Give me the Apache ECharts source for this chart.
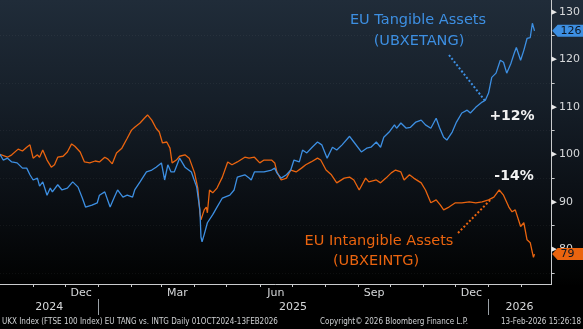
<!DOCTYPE html>
<html><head><meta charset="utf-8">
<script src="https://cdn.jsdelivr.net/npm/echarts@6/dist/echarts.min.js"></script>
<style>
html,body{margin:0;padding:0;background:#000;}
#c{width:583px;height:329px;background:linear-gradient(to bottom,#202c39 0%,#161f29 30%,#0a0e13 62%,#020303 84%,#000 87%,#000 100%);}
</style></head><body><div id="c"></div>
<script>
// ---- data ----
const startDate = '2024-10-01';
const tangDays = [0,3,7,11,16,21,25,28,31,35,37,40,44,47,49,54,58,63,68,73,77,80,86,91,93,98,103,107,110,115,119,124,126,131,137,142,146,151,154,157,160,163,168,173,179,184,187,188,189,191,194,199,203,208,215,219,222,229,233,235,238,247,254,257,259,263,268,272,275,280,283,287,292,297,301,306,311,315,320,327,331,338,343,347,352,356,359,364,369,371,375,380,384,389,394,398,403,408,411,415,418,423,427,432,437,440,445,451,454,457,460,464,468,471,474,478,481,483,487,490,493,496,498,500];
const tangValues = [100,98.8,99.2,98.4,98.2,97.1,97.1,95.7,94.6,95.0,93.3,94.2,91.4,92.9,92.1,93.6,92.5,92.9,94.2,93.1,90.8,88.9,89.3,89.8,91.4,92.1,88.9,91.0,92.5,91.0,91.4,91.0,92.5,94.2,96.3,96.7,97.3,98.2,94.6,97.8,96.3,96.3,99.2,97.3,96.3,93.1,88.3,82.6,81.6,83.1,85.6,87.3,88.9,90.8,91.4,92.5,95.2,95.7,95.0,94.6,96.3,96.3,96.7,97.1,96.1,95.0,95.7,96.7,98.8,98.4,100.9,100.3,101.5,102.6,102.0,99.2,101.5,100.9,102.0,103.8,102.6,100.5,101.3,101.5,102.6,101.5,103.6,104.7,106.2,105.5,106.6,105.5,105.7,106.8,107.2,106.2,105.5,107.6,105.7,103.6,103.0,104.7,106.8,108.7,109.3,108.7,109.9,111.0,111.4,112.9,116.2,117.1,119.8,119.4,117.1,119.2,121.3,122.5,119.8,121.9,124.4,124.6,127.6,126.0];
const intgDays = [0,7,11,17,21,25,28,31,35,37,40,44,48,51,54,59,63,67,70,75,79,84,89,93,98,101,105,109,114,119,123,126,131,135,138,142,146,149,152,156,159,161,165,168,173,177,182,185,187,188,189,191,193,194,196,199,203,208,213,217,222,229,233,238,243,247,254,257,259,263,268,272,277,282,286,291,297,300,305,310,315,322,327,331,336,342,345,352,356,361,366,370,375,378,383,387,394,398,403,408,412,415,420,426,432,439,445,451,457,462,467,471,476,479,482,487,490,493,496,498,499,500];
const intgValues = [100,99.4,99.9,101.1,100.7,101.5,102.0,99.2,99.9,99.4,100.9,98.8,97.3,97.8,99.4,99.6,100.5,102.2,101.7,100.5,98.4,98.2,98.6,98.4,99.4,99.0,98.0,100.3,101.3,103.4,105.1,105.7,106.6,107.6,108.3,107.2,105.5,104.7,102.4,102.6,101.3,98.2,98.8,99.6,99.9,99.2,96.1,92.9,87.7,86.2,86.6,88.3,88.9,87.7,92.5,91.9,92.9,95.2,98.4,97.8,98.4,99.4,99.2,99.4,98.2,98.8,98.8,98.2,96.3,94.6,95.0,96.7,96.3,97.1,97.8,98.4,99.2,98.8,96.7,95.7,94.0,95.0,95.2,94.6,92.5,95.0,94.2,94.6,94.0,95.0,96.1,96.7,96.3,94.6,95.7,95.0,94.0,92.5,89.8,90.4,89.3,88.3,88.9,89.8,89.8,90.0,89.8,90.0,90.4,91.0,92.5,91.4,88.9,87.9,88.3,84.8,85.6,82.0,81.4,79.3,78.3,79.0];
const tangName = ['EU Tangible Assets', '(UBXETANG)'];
const intgName = ['EU Intangible Assets', '(UBXEINTG)'];
const tangChange = '+12%';
const intgChange = '-14%';
const xMinDate = '2024-10-01', xMaxDate = '2026-03-01';
const yMin = 72.7, yMax = 132.5;
const yLabelValues = [80, 90, 100, 110, 120, 130];
const yMinorTickValues = [75, 85, 95, 105, 115, 125];
const monthTickDates = ['2024-11-01','2024-12-01','2025-01-01','2025-02-01','2025-03-01','2025-04-01','2025-05-01','2025-06-01','2025-07-01','2025-08-01','2025-09-01','2025-10-01','2025-11-01','2025-12-01','2026-01-01','2026-02-01'];
const monthLabelDates = ['2024-12-16','2025-03-16','2025-06-16','2025-09-16','2025-12-16'];
const monthLabelTexts = ['Dec','Mar','Jun','Sep','Dec'];
const yearLabelDates = ['2024-11-16','2025-07-02','2026-01-30'];
const yearLabelTexts = ['2024','2025','2026'];
const yearSepDates = ['2025-01-01','2026-01-01'];
const tangAnchor = ['2025-12-29', 111.2];
const intgAnchor = ['2026-01-04', 90.7];
const footerLeft = 'UKX Index (FTSE 100 Index) EU TANG vs. INTG Daily 01OCT2024-13FEB2026';
const footerMid = 'Copyright\u00A9 2026 Bloomberg Finance L.P.';
const footerRight = '13-Feb-2026 15:26:18';

// ---- helpers ----
function ts(s){const p=s.split('-').map(Number);return Date.UTC(p[0],p[1]-1,p[2]);}
const t0 = ts(startDate);
const DAY = 86400000;
const tangData = tangDays.map((d,i)=>[t0+d*DAY, tangValues[i]]);
const intgData = intgDays.map((d,i)=>[t0+d*DAY, intgValues[i]]);
const monthLabelMap = {}; monthLabelDates.forEach((d,i)=>monthLabelMap[ts(d)]=monthLabelTexts[i]);
const yearLabelMap = {}; yearLabelDates.forEach((d,i)=>yearLabelMap[ts(d)]=yearLabelTexts[i]);

const BLUE = '#3d8fe2', ORANGE = '#ea640f';
const FONT = 'DejaVu Sans';

const chart = echarts.init(document.getElementById('c'), null, {renderer:'canvas'});
chart.setOption({
  animation: false,
  backgroundColor: 'transparent',
  grid: {left: 0, right: 30, top: 0, bottom: 45},
  xAxis: [{
    type: 'value', min: ts(xMinDate), max: ts(xMaxDate),
    axisLine: {show: true, onZero: false, lineStyle: {color: '#c9cbcd', width: 1}},
    axisTick: {show: true, customValues: monthTickDates.map(ts), length: 3, lineStyle: {color: '#c9cbcd'}},
    axisLabel: {show: true, customValues: monthLabelDates.map(ts), formatter: v => monthLabelMap[v] || '',
      color: '#d6d8da', fontFamily: FONT, fontSize: 11, margin: 4, hideOverlap: false},
    splitLine: {show: false}
  },{
    type: 'value', min: ts(xMinDate), max: ts(xMaxDate), position: 'bottom', offset: 15,
    axisLine: {show: false, onZero: false},
    axisTick: {show: true, customValues: yearSepDates.map(ts), length: 16, lineStyle: {color: '#9aa0a6'}},
    axisLabel: {show: true, customValues: yearLabelDates.map(ts), formatter: v => yearLabelMap[v] || '',
      color: '#d6d8da', fontFamily: FONT, fontSize: 11, margin: 3, hideOverlap: false},
    splitLine: {show: false}
  }],
  yAxis: {
    type: 'value', position: 'right', min: yMin, max: yMax,
    axisLine: {show: true, lineStyle: {color: '#c9cbcd', width: 1}},
    axisTick: {show: true, customValues: yMinorTickValues, length: 3, lineStyle: {color: '#c9cbcd'}},
    axisLabel: {show: true, customValues: yLabelValues, margin: 0,
      formatter: v => '{t|\u25B6}{v|' + v + '}',
      rich: {t: {color: '#e8e8e8', fontSize: 7, fontFamily: FONT, padding: [0,2,0,0]},
             v: {color: '#d6d8da', fontSize: 11, fontFamily: FONT}}},
    splitLine: {show: true, lineStyle: {color: 'rgba(255,255,255,0.05)', type: [1,2]}}
  },
  series: [{
    type: 'line', data: intgData, showSymbol: false, symbol: 'none',
    lineStyle: {color: ORANGE, width: 1.3}, z: 2
  },{
    type: 'line', data: tangData, showSymbol: false, symbol: 'none',
    lineStyle: {color: BLUE, width: 1.3}, z: 3
  }]
});

function buildGraphics(){
  const xr = chart.convertToPixel({xAxisIndex: 0}, ts(xMaxDate));
  const W = 583;
  const g = [];
  function tag(val, color){
    const y = chart.convertToPixel({yAxisIndex: 0}, val);
    const h = 6;
    g.push({type: 'polygon', shape: {points: [[xr+0.5, y],[xr+6, y-h],[W, y-h],[W, y+h],[xr+6, y+h]]},
      style: {fill: color}, z: 100});
    g.push({type: 'text', x: xr+9, y: y, style: {text: String(val), fill: '#0c1622', font: '11px "DejaVu Sans"', textVerticalAlign: 'middle', textAlign: 'left'}, z: 101});
  }
  tag(Math.round(tangValues[tangValues.length-1]), BLUE);
  tag(Math.round(intgValues[intgValues.length-1]), ORANGE);

  const ta = chart.convertToPixel({gridIndex: 0}, [ts(tangAnchor[0]), tangAnchor[1]]);
  const ia = chart.convertToPixel({gridIndex: 0}, [ts(intgAnchor[0]), intgAnchor[1]]);
  g.push({type: 'line', shape: {x1: 449, y1: 55, x2: ta[0], y2: ta[1]}, style: {stroke: BLUE, lineWidth: 2, lineDash: [2,2]}, z: 50});
  g.push({type: 'line', shape: {x1: 458, y1: 233, x2: ia[0], y2: ia[1]}, style: {stroke: ORANGE, lineWidth: 2, lineDash: [2,2]}, z: 50});

  const annFont = '14.5px "DejaVu Sans"';
  g.push({type: 'text', x: 418, y: 20, style: {text: tangName[0], fill: BLUE, font: annFont, textAlign: 'center', textVerticalAlign: 'middle'}, z: 60});
  g.push({type: 'text', x: 419, y: 41, style: {text: tangName[1], fill: BLUE, font: annFont, textAlign: 'center', textVerticalAlign: 'middle'}, z: 60});
  g.push({type: 'text', x: 379, y: 241, style: {text: intgName[0], fill: ORANGE, font: annFont, textAlign: 'center', textVerticalAlign: 'middle'}, z: 60});
  g.push({type: 'text', x: 376, y: 261, style: {text: intgName[1], fill: ORANGE, font: annFont, textAlign: 'center', textVerticalAlign: 'middle'}, z: 60});
  g.push({type: 'text', x: 512, y: 116, style: {text: tangChange, fill: '#f2f2f2', font: 'bold 14px "DejaVu Sans"', textAlign: 'center', textVerticalAlign: 'middle'}, z: 60});
  g.push({type: 'text', x: 514, y: 176, style: {text: intgChange, fill: '#f2f2f2', font: 'bold 14px "DejaVu Sans"', textAlign: 'center', textVerticalAlign: 'middle'}, z: 60});

  const fFont = '8px "DejaVu Sans Condensed"';
  g.push({type: 'text', x: 2, y: 322, style: {text: footerLeft, fill: '#cfd1d3', font: fFont, textAlign: 'left', textVerticalAlign: 'middle'}});
  g.push({type: 'text', x: 320, y: 322, style: {text: footerMid, fill: '#cfd1d3', font: fFont, textAlign: 'left', textVerticalAlign: 'middle'}});
  g.push({type: 'text', x: 581, y: 322, style: {text: footerRight, fill: '#cfd1d3', font: fFont, textAlign: 'right', textVerticalAlign: 'middle'}});
  chart.setOption({graphic: g});
}
buildGraphics();
</script>
</body></html>
